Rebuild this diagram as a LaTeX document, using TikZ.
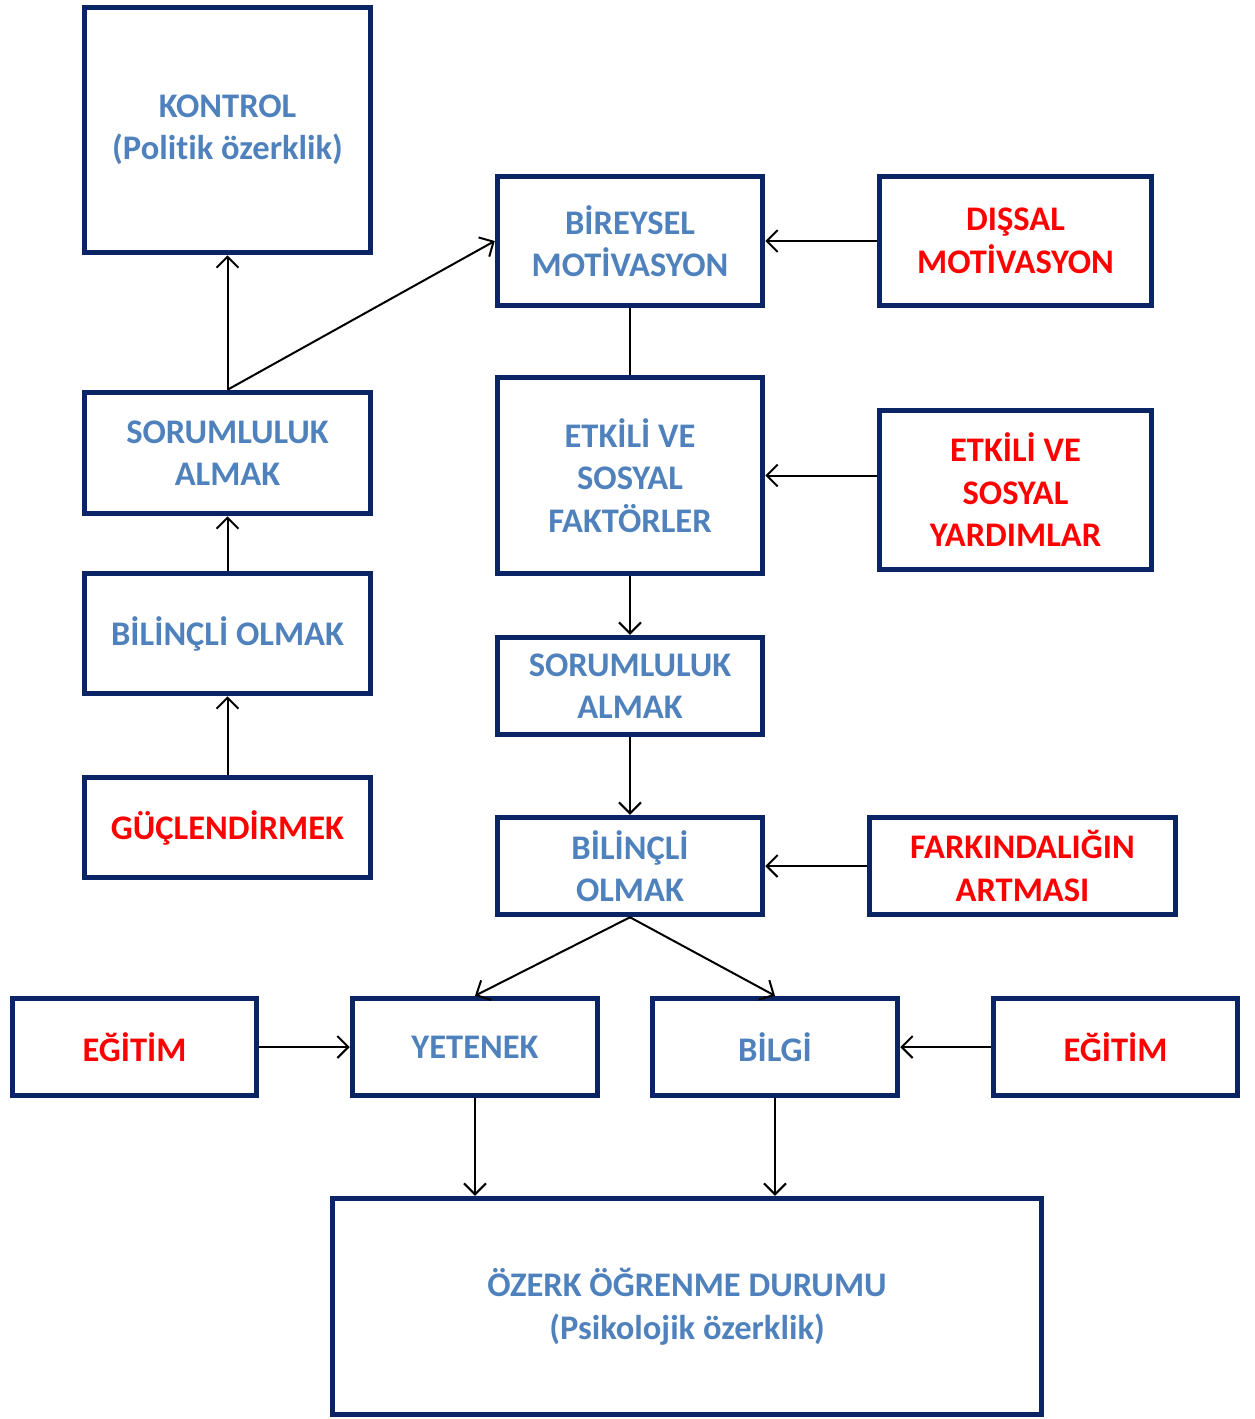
\documentclass[tikz,border=0pt]{standalone}
\usepackage{fontspec}
\setmainfont[Ligatures={NoCommon}]{Carlito}
\usetikzlibrary{arrows.meta}
\definecolor{navy}{HTML}{0B2463}
\definecolor{tblue}{HTML}{4F81BD}
\definecolor{tred}{HTML}{FF0000}
\tikzset{
  bx/.style={draw=navy, line width=5.5pt, inner sep=0pt, align=center,
    font=\fontsize{34.5}{42.5}\selectfont\bfseries},
  bl/.style={bx, text=tblue},
  rd/.style={bx, text=tred},
  arr/.style={draw=black, line width=2pt, -{Straight Barb[length=11pt,width=22pt,line width=2pt]}},
  ln/.style={draw=black, line width=2pt},
}
\begin{document}
\begin{tikzpicture}[x=1pt,y=-1pt]
\useasboundingbox (0,0) rectangle (1255,1419);
% left column
\node[bl, minimum width=286, minimum height=245] (kon) at (227.5,130) {KONTROL\\(Politik özerklik)};
\node[bl, minimum width=286, minimum height=121] (sorL) at (227.5,453) {SORUMLULUK\\ALMAK};
\node[bl, minimum width=286, minimum height=120] (bilL) at (227.5,633.5) {BİLİNÇLİ OLMAK};
\node[rd, minimum width=286, minimum height=100] (guc) at (227.5,827.5) {GÜÇLENDİRMEK};
% middle column
\node[bl, minimum width=265, minimum height=129] (bir) at (630,241) {BİREYSEL\\MOTİVASYON};
\node[bl, minimum width=265, minimum height=196] (etk) at (630,475.5) {ETKİLİ VE\\SOSYAL\\FAKTÖRLER};
\node[bl, minimum width=265, minimum height=97] (sorM) at (630,686) {SORUMLULUK\\ALMAK};
\node[bl, minimum width=265, minimum height=97] (bilM) at (630,866) {BİLİNÇLİ\\OLMAK};
% right column
\node[rd, minimum width=272, minimum height=129] (dis) at (1015.5,241) {DIŞSAL\\MOTİVASYON};
\node[rd, minimum width=272, minimum height=159] (yar) at (1015.5,490) {ETKİLİ VE\\SOSYAL\\YARDIMLAR};
\node[rd, minimum width=306, minimum height=97] (far) at (1022.5,866) {FARKINDALIĞIN\\ARTMASI};
% bottom row
\node[rd, minimum width=244, minimum height=97] (egL) at (134.5,1047) {EĞİTİM};
\node[bl, minimum width=245, minimum height=97] (yet) at (475,1047) {YETENEK};
\node[bl, minimum width=245, minimum height=97] (bilg) at (775,1047) {BİLGİ};
\node[rd, minimum width=244, minimum height=97] (egR) at (1115.5,1047) {EĞİTİM};
\node[bl, minimum width=709, minimum height=216] (oze) at (687,1306.5) {ÖZERK ÖĞRENME DURUMU\\(Psikolojik özerklik)};
% connectors
\draw[arr] (sorL.north) -- (kon.south);
\draw[arr] (sorL.north) -- (bir.west);
\draw[arr] (bilL.north) -- (sorL.south);
\draw[arr] (guc.north) -- (bilL.south);
\draw[arr] (dis.west) -- (bir.east);
\draw[ln] (bir.south) -- (etk.north);
\draw[arr] (yar.west |- etk.east) -- (etk.east);
\draw[arr] (etk.south) -- (sorM.north);
\draw[arr] (sorM.south) -- (bilM.north);
\draw[arr] (far.west) -- (bilM.east);
\draw[arr] (bilM.south) -- (yet.north);
\draw[arr] (bilM.south) -- (bilg.north);
\draw[arr] (egL.east) -- (yet.west);
\draw[arr] (egR.west) -- (bilg.east);
\draw[arr] (yet.south) -- (yet.south |- oze.north);
\draw[arr] (bilg.south) -- (bilg.south |- oze.north);
\end{tikzpicture}
\end{document}
